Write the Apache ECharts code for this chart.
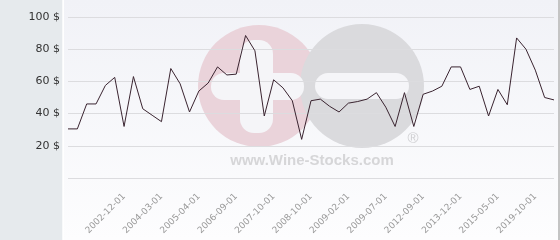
<!DOCTYPE html>
<html>
<head>
<meta charset="utf-8">
<script src="https://cdn.jsdelivr.net/npm/echarts@6/dist/echarts.min.js"></script>
<style>
html,body{margin:0;padding:0;background:#fff;}
#c{width:560px;height:240px;}
</style>
</head>
<body>
<div id="c"></div>
<script>
// Category labels (only the visible ones are known; others left blank)
var categories = [
  '', '', '', '', '', '', '2002-12-01', '', '', '',
  '2004-03-01', '', '', '', '2005-04-01', '', '', '', '2006-09-01', '',
  '', '', '2007-10-01', '', '', '', '2008-10-01', '', '', '',
  '2009-02-01', '', '', '', '2009-07-01', '', '', '', '2012-09-01', '',
  '', '', '2013-12-01', '', '', '', '2015-05-01', '', '', '',
  '2019-10-01', '', ''
];
// Price values ($)
var prices = [
  30.5, 30.5, 46, 46, 57.5, 62.5, 32, 63, 43, 39,
  35, 68, 58.5, 41, 54, 59, 69, 64, 64.5, 88.5,
  79, 38.5, 61, 56, 48, 24, 48, 49, 44.5, 41,
  46.5, 47.5, 49, 53, 44, 32, 53, 32, 52, 54,
  57, 69, 69, 55, 57, 38.5, 55, 45.5, 87, 80,
  67, 50, 48.5
];
var yTicks = [0, 20, 40, 60, 80, 100];

var chart = echarts.init(document.getElementById('c'), null, {renderer: 'canvas'});
chart.setOption({
  animation: false,
  backgroundColor: 'transparent',
  graphic: [
    {type: 'rect', z: -10, silent: true, shape: {x: 63, y: 0, width: 497, height: 240},
     style: {fill: new echarts.graphic.LinearGradient(0, 0, 0, 1, [
       {offset: 0, color: '#f1f2f7'}, {offset: 1, color: '#fdfdfe'}])}},
    {type: 'rect', z: -10, silent: true, shape: {x: 0, y: 0, width: 62.5, height: 240}, style: {fill: '#e6eaed'}},
    {type: 'rect', z: -10, silent: true, shape: {x: 62.5, y: 0, width: 1.5, height: 240}, style: {fill: '#ffffff'}},
    {type: 'rect', z: -10, silent: true, shape: {x: 558, y: 0, width: 2, height: 240}, style: {fill: '#c4c4c4'}},
    // watermark
    {type: 'circle', z: -9, silent: true, shape: {cx: 259, cy: 86, r: 61}, style: {fill: '#eAd3da'}},
    {type: 'circle', z: -9, silent: true, shape: {cx: 362, cy: 86, r: 62}, style: {fill: '#dadadd'}},
    {type: 'rect', z: -8, silent: true, shape: {x: 240, y: 40, width: 33, height: 93, r: 14}, style: {fill: '#f5f5f8'}},
    {type: 'rect', z: -8, silent: true, shape: {x: 211, y: 73, width: 93, height: 27, r: 13}, style: {fill: '#f5f5f8'}},
    {type: 'rect', z: -8, silent: true, shape: {x: 315, y: 73, width: 94, height: 26, r: 13}, style: {fill: '#f5f5f8'}},
    {type: 'text', z: -8, silent: true, style: {x: 312, y: 161, text: 'www.Wine-Stocks.com', textAlign: 'center', textVerticalAlign: 'middle',
      font: 'bold 15px "Liberation Sans", Arial, sans-serif', fill: '#d6d6d8'}},
    {type: 'text', z: -8, silent: true, style: {x: 413, y: 139, text: '®', textAlign: 'center', textVerticalAlign: 'middle',
      font: '15px "Liberation Sans", Arial, sans-serif', fill: '#cfcfd2'}}
  ],
  grid: {left: 68, right: 6, top: 17, bottom: 62, containLabel: false},
  xAxis: {
    type: 'category',
    data: categories,
    boundaryGap: false,
    axisLine: {show: false},
    axisTick: {show: false},
    splitLine: {show: false},
    axisLabel: {
      interval: 0, rotate: 45, margin: 17, color: '#999999',
      fontFamily: 'DejaVu Sans', fontSize: 9
    }
  },
  yAxis: {
    type: 'value',
    min: yTicks[0], max: yTicks[yTicks.length - 1], interval: 20,
    axisLine: {show: false},
    axisTick: {show: false},
    splitLine: {lineStyle: {color: '#dcdcdf', width: 1}},
    axisLabel: {
      margin: 8, color: '#333333', fontFamily: 'DejaVu Sans', fontSize: 11,
      formatter: function (v) { return v === 0 ? '' : v + ' $'; }
    }
  },
  series: [{
    type: 'line',
    data: prices,
    symbol: 'none',
    lineStyle: {color: '#3a2430', width: 1},
    z: 5
  }]
});
</script>
</body>
</html>
